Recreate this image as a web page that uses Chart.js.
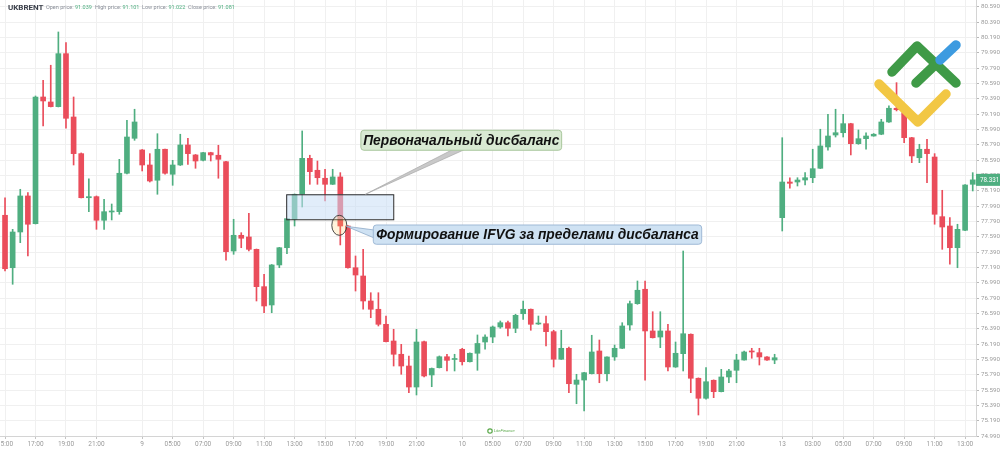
<!DOCTYPE html>
<html>
<head>
<meta charset="utf-8">
<script src="https://cdn.jsdelivr.net/npm/chart.js@4.4.0/dist/chart.umd.min.js"></script>
<style>
  html, body { margin: 0; padding: 0; background: #fff; }
  #c { display: block; }
</style>
</head>
<body>
<canvas id="c" width="1000" height="449"></canvas>
<script>
// half-hour candles of UKBRENT, index 0 = 15:00 on the 8th
const opens = [77.869,77.185,77.651,78.121,77.759,79.412,79.347,79.286,79.977,79.151,
  78.673,78.098,78.112,77.804,77.912,77.916,78.417,78.873,78.721,78.525,
  78.326,78.730,78.404,78.525,78.786,78.656,78.586,78.686,78.652,78.568,
  77.403,77.608,77.586,77.425,76.938,76.699,77.221,77.446,77.817,78.143,
  78.612,78.456,78.352,78.273,78.369,77.729,77.185,77.077,76.751,76.643,
  76.447,76.229,76.056,75.903,75.629,76.220,75.786,75.881,76.024,75.988,
  76.121,75.959,76.069,76.216,76.281,76.412,76.468,76.395,76.585,76.643,
  76.451,76.455,76.351,75.991,76.134,75.664,75.720,75.803,76.099,75.803,
  76.021,76.134,76.438,76.716,76.904,76.360,76.281,76.360,75.890,76.064,
  76.317,75.743,75.482,75.717,75.568,75.760,75.847,75.981,76.099,76.077,
  76.021,75.981,77.838,78.303,78.303,78.329,78.359,78.482,78.760,78.916,
  78.946,79.064,78.803,78.868,78.903,78.926,79.086,79.265,79.207,78.881,
  78.620,78.730,78.629,77.851,77.729,77.446,77.673,78.273];
const highs = [78.098,77.686,78.208,78.164,79.425,79.630,79.826,80.260,80.120,79.412,
  78.682,78.346,78.121,78.078,78.016,78.599,79.108,79.252,78.727,78.673,
  78.933,78.734,78.586,78.926,78.873,78.662,78.691,78.691,78.782,78.573,
  77.817,77.642,77.895,77.429,77.099,77.227,77.451,77.830,78.147,78.969,
  78.652,78.577,78.469,78.469,78.425,77.735,77.338,77.425,76.859,76.859,
  76.555,76.382,76.186,76.034,76.382,76.229,75.877,76.034,76.056,76.056,
  76.134,76.074,76.308,76.308,76.425,76.490,76.490,76.578,76.751,76.647,
  76.555,76.555,76.369,76.369,76.151,75.795,75.821,76.304,76.242,76.024,
  76.177,76.468,76.751,77.012,77.012,76.611,76.611,76.447,76.216,77.403,
  76.322,75.748,75.881,75.722,75.860,75.860,76.056,76.099,76.134,76.134,
  76.025,76.056,78.881,78.359,78.359,78.425,78.730,78.991,79.186,79.252,
  79.186,79.069,78.982,78.946,78.935,79.121,79.295,79.599,79.230,78.886,
  78.795,78.860,78.673,78.195,77.838,77.752,78.270,78.425];
const lows = [77.142,76.969,77.512,77.338,77.755,79.034,79.282,79.282,79.004,78.525,
  78.095,77.916,77.686,77.686,77.808,77.882,78.408,78.847,78.447,78.303,
  78.143,78.404,78.260,78.518,78.534,78.482,78.577,78.577,78.352,77.282,
  77.360,77.446,77.403,76.751,76.598,76.598,77.185,77.368,77.729,77.977,
  78.273,78.273,78.055,78.270,77.482,77.180,76.881,76.643,76.533,76.425,
  76.216,75.903,75.795,75.555,75.525,75.760,75.633,75.877,75.838,75.838,
  75.916,75.955,75.847,76.121,76.207,76.395,76.294,76.338,76.512,76.369,
  76.445,76.164,75.890,75.988,75.555,75.411,75.316,75.799,75.685,75.707,
  75.977,76.130,76.369,76.708,75.717,76.268,76.142,75.838,75.885,75.838,
  75.555,75.264,75.469,75.490,75.565,75.685,75.685,75.978,76.004,75.916,
  75.977,75.933,77.664,78.221,78.251,78.264,78.294,78.478,78.717,78.890,
  78.890,78.656,78.795,78.730,78.900,78.920,79.080,79.230,78.816,78.555,
  78.555,78.294,77.752,77.425,77.230,77.185,77.668,78.186];
const closes = [77.172,77.651,78.121,77.752,79.412,79.360,79.286,79.977,79.134,78.673,
  78.098,78.112,77.804,77.916,77.918,78.417,78.890,79.086,78.525,78.316,
  78.730,78.417,78.525,78.786,78.673,78.577,78.686,78.656,78.599,77.394,
  77.608,77.569,77.425,76.938,76.686,77.221,77.446,77.825,78.143,78.612,
  78.438,78.359,78.273,78.369,77.729,77.185,77.090,76.751,76.643,76.447,
  76.220,76.056,75.903,75.629,76.216,75.773,75.871,76.024,75.977,75.994,
  75.959,76.069,76.197,76.281,76.412,76.468,76.395,76.564,76.643,76.447,
  76.455,76.351,75.991,76.134,75.672,75.720,75.816,76.086,75.803,76.021,
  76.134,76.425,76.716,76.891,76.360,76.272,76.360,75.890,76.069,76.324,
  75.743,75.482,75.698,75.568,75.760,75.838,75.981,76.086,76.086,76.021,
  75.981,76.011,78.303,78.286,78.329,78.359,78.477,78.773,78.903,78.946,
  79.064,78.803,78.868,78.903,78.926,79.086,79.265,79.246,78.881,78.643,
  78.730,78.673,77.882,77.716,77.446,77.686,78.264,78.331];

const xTickIdx = [0,4,8,12,18,22,26,30,34,38,42,46,50,54,60,64,68,72,76,80,84,88,92,96,102,106,110,114,118,122,126];
const xTickText = ['15:00','17:00','19:00','21:00','9','05:00','07:00','09:00','11:00','13:00','15:00','17:00','19:00','21:00',
  '10','05:00','07:00','09:00','11:00','13:00','15:00','17:00','19:00','21:00','13','03:00','05:00','07:00','09:00','11:00','13:00'];
const yTicks = [74.99,75.19,75.39,75.59,75.79,75.99,76.19,76.39,76.59,76.79,76.99,77.19,77.39,77.59,77.79,77.99,
  78.19,78.39,78.59,78.79,78.99,79.19,79.39,79.59,79.79,79.99,80.19,80.39,80.59];

// header quote
const symbol = 'UKBRENT';
const quoteNames = ['Open price:', 'High price:', 'Low price:', 'Close price:'];
const quoteValues = ['91.039', '91.101', '91.022', '91.081'];

// annotations, in candle index / price units
const gapBox = { x0: 36.9, x1: 50.95, top: 78.143, bottom: 77.817 };
const note1 = { text: 'Первоначальный дисбаланс', x0: 46.7, x1: 73.05, top: 78.978, bottom: 78.717 };
const note2 = { text: 'Формирование IFVG за пределами дисбаланса', x0: 48.33, x1: 91.43, top: 77.742, bottom: 77.491 };
const ring = { x: 43.87, y: 77.738 };

const GREEN = '#4fae80';
const RED = '#ea4d5b';
const isUp = i => closes[i] >= opens[i];

function roundRect(ctx, x, y, w, h, r) {
  ctx.beginPath();
  ctx.moveTo(x + r, y);
  ctx.arcTo(x + w, y, x + w, y + h, r);
  ctx.arcTo(x + w, y + h, x, y + h, r);
  ctx.arcTo(x, y + h, x, y, r);
  ctx.arcTo(x, y, x + w, y, r);
  ctx.closePath();
}

const decor = {
  id: 'decor',
  afterDatasetsDraw(chart) {
    const { ctx, scales: { x, y }, chartArea } = chart;
    ctx.save();

    // imbalance box
    const bx0 = x.getPixelForValue(gapBox.x0), bx1 = x.getPixelForValue(gapBox.x1);
    const by0 = y.getPixelForValue(gapBox.top), by1 = y.getPixelForValue(gapBox.bottom);
    ctx.fillStyle = 'rgba(200,222,245,0.55)';
    ctx.fillRect(bx0, by0, bx1 - bx0, by1 - by0);
    ctx.strokeStyle = '#2b2b2b';
    ctx.lineWidth = 1;
    ctx.strokeRect(bx0 + 0.5, by0 + 0.5, bx1 - bx0, by1 - by0);

    // ring around the IFVG candle
    const rx = x.getPixelForValue(ring.x), ry = y.getPixelForValue(ring.y);
    ctx.beginPath();
    ctx.ellipse(rx, ry, 7.5, 10, 0, 0, Math.PI * 2);
    ctx.fillStyle = 'rgba(255,200,90,0.22)';
    ctx.fill();
    ctx.strokeStyle = '#333';
    ctx.lineWidth = 0.9;
    ctx.stroke();

    // note 1 and its pointer
    const n1x0 = x.getPixelForValue(note1.x0), n1x1 = x.getPixelForValue(note1.x1);
    const n1y0 = y.getPixelForValue(note1.top), n1y1 = y.getPixelForValue(note1.bottom);
    ctx.beginPath();
    ctx.moveTo(n1x0 + (n1x1 - n1x0) * 0.46, n1y1 - 1);
    ctx.lineTo(n1x0 + (n1x1 - n1x0) * 0.52, n1y1 - 1);
    ctx.lineTo(bx0 + (bx1 - bx0) * 0.74, by0);
    ctx.closePath();
    ctx.fillStyle = '#c9c9c9';
    ctx.fill();
    ctx.strokeStyle = '#a8a8a8';
    ctx.lineWidth = 0.7;
    ctx.stroke();

    roundRect(ctx, n1x0, n1y0, n1x1 - n1x0, n1y1 - n1y0, 3);
    ctx.fillStyle = '#d9ead3';
    ctx.fill();
    ctx.strokeStyle = '#a9c79d';
    ctx.lineWidth = 1;
    ctx.stroke();

    // note 2 and its pointer
    const n2x0 = x.getPixelForValue(note2.x0), n2x1 = x.getPixelForValue(note2.x1);
    const n2y0 = y.getPixelForValue(note2.top), n2y1 = y.getPixelForValue(note2.bottom);
    ctx.beginPath();
    ctx.moveTo(n2x0 + 1, n2y0 + 5);
    ctx.lineTo(n2x0 + 1, n2y0 + 13);
    ctx.lineTo(rx + 7, ry + 1);
    ctx.closePath();
    ctx.fillStyle = '#cfe2f3';
    ctx.fill();
    ctx.strokeStyle = '#8ea9c8';
    ctx.lineWidth = 0.8;
    ctx.stroke();

    roundRect(ctx, n2x0, n2y0, n2x1 - n2x0, n2y1 - n2y0, 3);
    ctx.fillStyle = '#cfe2f3';
    ctx.fill();
    ctx.strokeStyle = '#9fb9d6';
    ctx.lineWidth = 1;
    ctx.stroke();

    ctx.fillStyle = '#111';
    ctx.font = 'bold italic 13.8px "Liberation Sans", Arial, sans-serif';
    ctx.textAlign = 'center';
    ctx.textBaseline = 'middle';
    ctx.fillText(note1.text, (n1x0 + n1x1) / 2, (n1y0 + n1y1) / 2 + 0.5);
    ctx.fillText(note2.text, (n2x0 + n2x1) / 2, (n2y0 + n2y1) / 2 + 0.5);

    // header
    ctx.textAlign = 'left';
    ctx.fillStyle = '#3a3f4a';
    ctx.font = 'bold 8px Roboto, sans-serif';
    ctx.fillText(symbol, 8, 8);
    const qx = [46, 95, 142, 188];
    ctx.font = '5.5px Roboto, sans-serif';
    quoteNames.forEach((n, i) => {
      ctx.fillStyle = '#8a8f99';
      ctx.fillText(n, qx[i], 8);
      const w = ctx.measureText(n + ' ').width;
      ctx.fillStyle = '#4fae80';
      ctx.fillText(quoteValues[i], qx[i] + w, 8);
    });

    // logo
    ctx.lineCap = 'round';
    ctx.lineJoin = 'round';
    ctx.lineWidth = 9.5;
    ctx.strokeStyle = '#f2c744';
    ctx.beginPath();
    ctx.moveTo(879, 84); ctx.lineTo(918, 122); ctx.lineTo(946, 94);
    ctx.stroke();
    ctx.strokeStyle = '#3f9a47';
    ctx.beginPath();
    ctx.moveTo(892, 72); ctx.lineTo(917, 46); ctx.lineTo(956, 83);
    ctx.stroke();
    ctx.beginPath();
    ctx.moveTo(916, 83); ctx.lineTo(936, 64);
    ctx.stroke();
    ctx.strokeStyle = '#3d9be0';
    ctx.beginPath();
    ctx.moveTo(940, 60); ctx.lineTo(956, 45);
    ctx.stroke();

    // small watermark at the bottom
    ctx.lineWidth = 1.2;
    ctx.strokeStyle = '#5aa84a';
    ctx.beginPath();
    ctx.arc(490, 431, 2.2, 0, Math.PI * 2);
    ctx.stroke();
    ctx.fillStyle = '#5aa84a';
    ctx.font = 'italic 4px sans-serif';
    ctx.fillText('LiteFinance', 494, 431);

    // last price tag
    const last = closes.length - 1;
    const py = y.getPixelForValue(closes[last]);
    ctx.fillStyle = '#4fae80';
    ctx.fillRect(chartArea.right, py - 6, 24, 12);
    ctx.fillStyle = '#fff';
    ctx.font = '6.3px Roboto, sans-serif';
    ctx.fillText(closes[last].toFixed(3), chartArea.right + 4, py + 0.5);

    ctx.restore();
  }
};

const bodies = opens.map((o, i) => ({ x: i, y: [o, closes[i]] }));
const wicks = opens.map((o, i) => ({ x: i, y: [lows[i], highs[i]] }));

new Chart(document.getElementById('c'), {
  type: 'bar',
  data: {
    datasets: [
      {
        data: wicks, order: 2, grouped: false, barThickness: 1,
        backgroundColor: c => isUp(c.dataIndex) ? GREEN : RED
      },
      {
        data: bodies, order: 1, grouped: false, barThickness: 5, minBarLength: 1,
        backgroundColor: c => isUp(c.dataIndex) ? GREEN : RED
      }
    ]
  },
  options: {
    responsive: false,
    animation: false,
    layout: { padding: 0 },
    plugins: { legend: { display: false }, tooltip: { enabled: false } },
    scales: {
      x: {
        type: 'linear',
        offset: false,
        min: -0.66,
        max: 127.43,
        afterBuildTicks: s => { s.ticks = xTickIdx.map(v => ({ value: v })); },
        afterFit: s => { s.height = 13; s.paddingLeft = 0; s.paddingRight = 0; },
        ticks: {
          autoSkip: false, maxRotation: 0, padding: 1,
          color: '#9a9a9a', font: { size: 6.5, family: 'Roboto' },
          callback: (v, i) => xTickText[i]
        },
        grid: { offset: false, color: '#f0f0f0', tickLength: 3, tickColor: '#c4c4c4' },
        border: { color: '#d4d4d4' }
      },
      y: {
        position: 'right',
        min: 74.99,
        max: 80.677,
        afterBuildTicks: s => { s.ticks = yTicks.map(v => ({ value: v })); },
        afterFit: s => { s.width = 24; s.paddingTop = 0; s.paddingBottom = 0; },
        ticks: {
          padding: 2, color: '#9a9a9a', font: { size: 6.2, family: 'Roboto' },
          callback: v => v.toFixed(3)
        },
        grid: { color: '#f0f0f0', tickLength: 3, tickColor: '#b8b8b8' },
        border: { color: '#d4d4d4' }
      }
    }
  },
  plugins: [decor]
});
</script>
</body>
</html>
